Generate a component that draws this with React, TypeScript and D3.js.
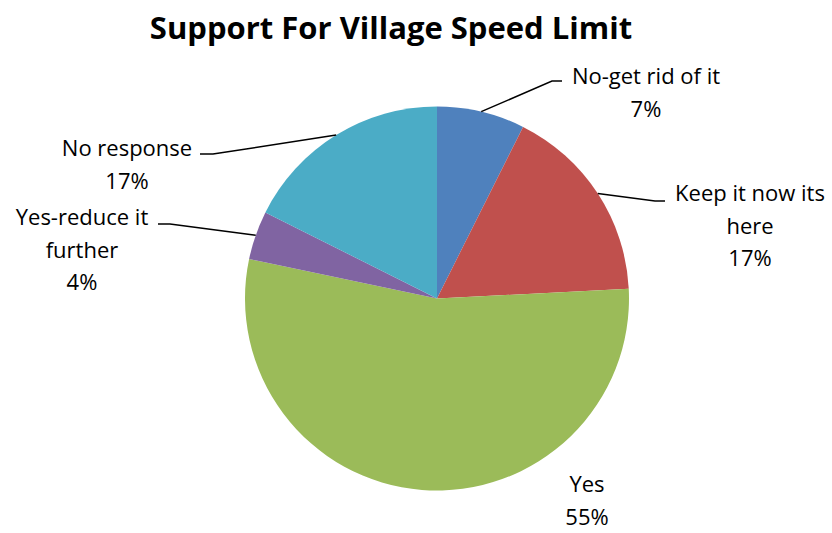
import * as d3 from 'd3';
import * as React from 'react';

const width = 832;
const height = 533;

const title = 'Support For Village Speed Limit';
const categories = ['No-get rid of it', 'Keep it now its here', 'Yes', 'Yes-reduce it further', 'No response'];
const values = [7.4, 16.8, 54.1, 4.1, 17.6];
const pctLabels = ['7%', '17%', '55%', '4%', '17%'];
const colors = ['#4F81BD', '#C0504D', '#9BBB59', '#8064A2', '#4BACC6'];

// label layout: text lines, text centre, elbow of leader line (null = no leader)
const labelLayout = [
  { lines: ['No-get rid of it', '7%'], x: 646, y: 75, elbow: [552, 81], end: 562 },
  { lines: ['Keep it now its', 'here', '17%'], x: 750, y: 192, elbow: [655, 201], end: 665 },
  { lines: ['Yes', '55%'], x: 587, y: 483, elbow: null, end: 0 },
  { lines: ['Yes-reduce it', 'further', '4%'], x: 82, y: 216, elbow: [170, 224], end: 158 },
  { lines: ['No response', '17%'], x: 127, y: 147, elbow: [213, 154], end: 200 },
];

const cx = 437;
const cy = 298.5;
const r = 192;
const lineH = 32.5;
const font = '"Open Sans", Lato, sans-serif';

export default function App() {
  const data = categories.map((c, i) => ({ name: c, value: values[i], pct: pctLabels[i] }));
  const pie = d3.pie<any>().sort(null).value(d => d.value);
  const arcs = pie(data);
  const arc = d3.arc<any>().innerRadius(0).outerRadius(r);

  return (
    <svg width={width} height={height} style={{ position: 'absolute', left: 0, top: 0, background: '#fff' }}>
      <text x={391} y={27} textAnchor="middle" dominantBaseline="central" fontFamily={font} fontWeight="bold" fontSize={31} fill="#000">
        {title}
      </text>
      <g transform={`translate(${cx},${cy})`}>
        {arcs.map((a, i) => (
          <path key={i} d={arc(a) as string} fill={colors[i]} />
        ))}
      </g>
      {arcs.map((a, i) => {
        const lay = labelLayout[i];
        const mid = (a.startAngle + a.endAngle) / 2;
        const px = cx + r * Math.sin(mid);
        const py = cy - r * Math.cos(mid);
        return (
          <g key={i}>
            {lay.elbow && (
              <polyline
                points={`${px},${py} ${lay.elbow[0]},${lay.elbow[1]} ${lay.end},${lay.elbow[1]}`}
                fill="none"
                stroke="#000"
                strokeWidth={1.5}
              />
            )}
            {lay.lines.map((t, j) => (
              <text
                key={j}
                x={lay.x}
                y={lay.y + j * lineH}
                textAnchor="middle"
                dominantBaseline="central"
                fontFamily={font}
                fontSize={22}
                fill="#000"
              >
                {t}
              </text>
            ))}
          </g>
        );
      })}
    </svg>
  );
}
